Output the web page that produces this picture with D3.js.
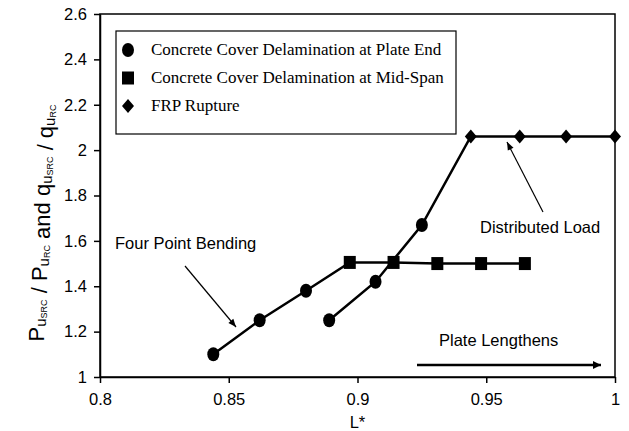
<!DOCTYPE html>
<html>
<head>
<meta charset="utf-8">
<style>
body { margin: 0; background: #fff; }
svg { display: block; }
.axis text { font-family: "Liberation Sans", Arial, sans-serif; font-size: 16.5px; fill: #000; }
.axis line, .axis path { stroke: #000; stroke-width: 1.5px; }
.note { font-family: "Liberation Sans", Arial, sans-serif; font-size: 16.5px; fill: #000; }
.legend text { font-family: "Liberation Serif", "Times New Roman", serif; font-size: 17px; fill: #000; }
</style>
</head>
<body>
<svg width="629" height="431" id="chart"></svg>
<script src="https://cdn.jsdelivr.net/npm/d3@7"></script>
<script>
// four point bending: plate end delamination then mid-span delamination
var fourPtX = [0.844, 0.862, 0.880, 0.897, 0.914, 0.931, 0.948, 0.965];
var fourPtY = [1.10, 1.25, 1.38, 1.505, 1.505, 1.50, 1.50, 1.50];
var fourPtMode = ["end", "end", "end", "mid", "mid", "mid", "mid", "mid"];

// distributed load: plate end delamination then FRP rupture
var distX = [0.889, 0.907, 0.925, 0.944, 0.963, 0.981, 1.0];
var distY = [1.25, 1.42, 1.67, 2.06, 2.06, 2.06, 2.06];
var distMode = ["end", "end", "end", "frp", "frp", "frp", "frp"];

var xTicks = [0.8, 0.85, 0.9, 0.95, 1];
var yTicks = [1, 1.2, 1.4, 1.6, 1.8, 2, 2.2, 2.4, 2.6];
var legendKeys = ["end", "mid", "frp"];
var legendLabels = ["Concrete Cover Delamination at Plate End",
                    "Concrete Cover Delamination at Mid-Span",
                    "FRP Rupture"];

var svg = d3.select("#chart"),
    margin = {top: 14, right: 14, bottom: 54, left: 100},
    width = +svg.attr("width") - margin.left - margin.right,
    height = +svg.attr("height") - margin.top - margin.bottom,
    g = svg.append("g").attr("transform", "translate(" + margin.left + "," + margin.top + ")");

var x = d3.scaleLinear().domain([0.8, 1]).range([0, width]);
var y = d3.scaleLinear().domain([1, 2.6]).range([height, 0]);

var fmt = function(d) { return String(+d.toFixed(2)); };

// frame (top / right)
g.append("rect")
    .attr("width", width).attr("height", height)
    .attr("fill", "none").attr("stroke", "#000").attr("stroke-width", 1.5);

g.append("g")
    .attr("class", "axis")
    .attr("transform", "translate(0," + height + ")")
    .call(d3.axisBottom(x).tickValues(xTicks).tickFormat(fmt).tickSize(6).tickPadding(10).tickSizeOuter(0));

g.append("g")
    .attr("class", "axis")
    .call(d3.axisLeft(y).tickValues(yTicks).tickFormat(fmt).tickSize(6).tickPadding(7).tickSizeOuter(0));

// axis titles
svg.append("text")
    .attr("class", "note")
    .attr("x", margin.left + x(0.9))
    .attr("y", 428)
    .attr("text-anchor", "middle")
    .text("L*");

var yt = svg.append("text")
    .attr("transform", "translate(44," + 223 + ") rotate(-90)")
    .attr("text-anchor", "middle")
    .attr("font-family", "Liberation Sans, Arial, sans-serif")
    .attr("font-size", 22);
function part(main, sub, subsub) {
  yt.append("tspan").text(main);
  yt.append("tspan").attr("font-size", 15).attr("dy", 2).text(sub);
  yt.append("tspan").attr("font-size", 9).attr("dy", 1).text(subsub);
  yt.append("tspan").attr("dy", -3).text("");
}
part("P", "u", "SRC");
yt.append("tspan").text(" / ");
part("P", "u", "RC");
yt.append("tspan").text(" and ");
part("q", "u", "SRC");
yt.append("tspan").text(" / ");
part("q", "u", "RC");

// markers
function marker(sel, mode) {
  if (mode === "end") {
    sel.append("ellipse").attr("rx", 6).attr("ry", 7).attr("fill", "#000");
  } else if (mode === "mid") {
    sel.append("rect").attr("x", -6).attr("y", -6.5).attr("width", 12).attr("height", 13).attr("fill", "#000");
  } else {
    sel.append("path").attr("d", "M0,-7L6,0L0,7L-6,0Z").attr("fill", "#000");
  }
}

var line = d3.line().x(function(d) { return x(d[0]); }).y(function(d) { return y(d[1]); });

function drawSeries(xs, ys, modes) {
  var pts = xs.map(function(v, i) { return [v, ys[i], modes[i]]; });
  g.append("path").datum(pts)
      .attr("d", line)
      .attr("fill", "none").attr("stroke", "#000").attr("stroke-width", 2.5);
  g.append("g").selectAll("g").data(pts).enter().append("g")
      .attr("transform", function(d) { return "translate(" + x(d[0]) + "," + y(d[1]) + ")"; })
      .each(function(d) { marker(d3.select(this), d[2]); });
}
drawSeries(fourPtX, fourPtY, fourPtMode);
drawSeries(distX, distY, distMode);

// legend
var lg = svg.append("g").attr("class", "legend");
lg.append("rect")
    .attr("x", 116).attr("y", 31).attr("width", 340).attr("height", 103)
    .attr("fill", "#fff").attr("stroke", "#000").attr("stroke-width", 1.2);
var items = lg.selectAll("g.item").data(legendKeys).enter().append("g")
    .attr("class", "item")
    .attr("transform", function(d, i) { return "translate(128," + (50 + i * 28) + ")"; });
items.each(function(d) { marker(d3.select(this), d); });
items.append("text")
    .attr("x", 23).attr("dy", "0.32em")
    .text(function(d, i) { return legendLabels[i]; });

// annotations
var defs = svg.append("defs");
defs.append("marker").attr("id", "thin").attr("viewBox", "0 0 10 10")
    .attr("refX", 10).attr("refY", 5).attr("markerWidth", 10).attr("markerHeight", 8)
    .attr("markerUnits", "userSpaceOnUse").attr("orient", "auto")
  .append("path").attr("d", "M0,1L10,5L0,9Z").attr("fill", "#000");
defs.append("marker").attr("id", "thick").attr("viewBox", "0 0 10 10")
    .attr("refX", 10).attr("refY", 5).attr("markerWidth", 12).attr("markerHeight", 8)
    .attr("markerUnits", "userSpaceOnUse").attr("orient", "auto")
  .append("path").attr("d", "M0,0L10,5L0,10Z").attr("fill", "#000");

svg.append("text").attr("class", "note").attr("x", 115).attr("y", 249).text("Four Point Bending");
svg.append("line").attr("x1", 185).attr("y1", 266).attr("x2", 236).attr("y2", 327)
    .attr("stroke", "#000").attr("stroke-width", 1.2).attr("marker-end", "url(#thin)");

svg.append("text").attr("class", "note").attr("x", 480).attr("y", 233).text("Distributed Load");
svg.append("line").attr("x1", 543).attr("y1", 212).attr("x2", 507).attr("y2", 142)
    .attr("stroke", "#000").attr("stroke-width", 1.2).attr("marker-end", "url(#thin)");

svg.append("text").attr("class", "note").attr("x", 439).attr("y", 346).text("Plate Lengthens");
svg.append("line").attr("x1", 417).attr("y1", 365).attr("x2", 601).attr("y2", 365)
    .attr("stroke", "#000").attr("stroke-width", 2.5).attr("marker-end", "url(#thick)");
</script>
</body>
</html>
